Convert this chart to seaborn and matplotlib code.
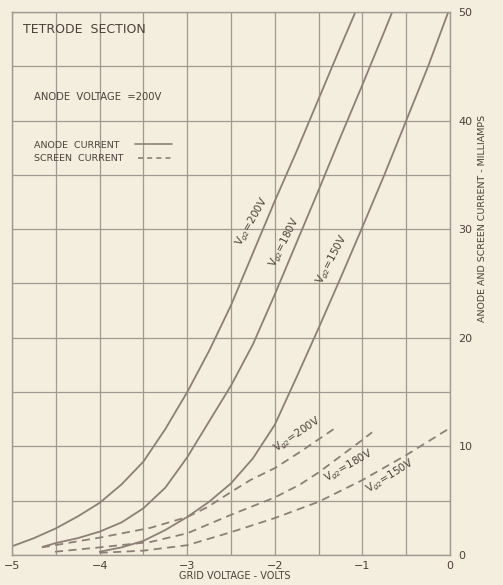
import matplotlib
matplotlib.use("Agg")
import matplotlib.pyplot as plt
import seaborn as sns
from matplotlib.lines import Line2D

# anode current curves (solid), grid volts vs mA
a200_x = [-5.0, -4.75, -4.5, -4.25, -4.0, -3.75, -3.5, -3.25, -3.0, -2.75, -2.5, -2.25, -2.0, -1.75, -1.5, -1.25, -1.08]
a200_y = [0.8, 1.55, 2.45, 3.55, 4.8, 6.5, 8.6, 11.6, 15.0, 18.8, 23.0, 27.8, 32.6, 37.2, 42.0, 46.8, 50.0]
a180_x = [-4.65, -4.5, -4.25, -4.0, -3.75, -3.5, -3.25, -3.0, -2.75, -2.5, -2.25, -2.0, -1.75, -1.5, -1.25, -1.0, -0.75, -0.66]
a180_y = [0.75, 1.1, 1.55, 2.15, 3.0, 4.3, 6.2, 9.0, 12.3, 15.6, 19.4, 24.0, 28.8, 33.6, 38.5, 43.3, 48.2, 50.0]
a150_x = [-4.0, -3.75, -3.5, -3.25, -3.0, -2.75, -2.5, -2.25, -2.0, -1.75, -1.5, -1.25, -1.0, -0.75, -0.5, -0.25, -0.02]
a150_y = [0.3, 0.7, 1.3, 2.3, 3.5, 4.9, 6.6, 8.9, 12.0, 16.4, 20.9, 25.5, 30.2, 35.0, 40.0, 45.0, 50.0]

# screen current curves (dashed)
s200_x = [-4.66, -4.0, -3.42, -3.0, -2.77, -2.5, -2.28, -2.0, -1.71, -1.29]
s200_y = [0.7, 1.6, 2.5, 3.5, 4.4, 5.8, 6.9, 8.0, 9.5, 11.8]
s180_x = [-4.51, -4.0, -3.42, -3.0, -2.5, -2.0, -1.71, -1.5, -1.0, -0.89]
s180_y = [0.3, 0.7, 1.2, 2.0, 3.7, 5.3, 6.5, 7.6, 10.6, 11.3]
s150_x = [-4.0, -3.5, -3.0, -2.5, -2.0, -1.5, -1.0, -0.5, 0.0]
s150_y = [0.2, 0.4, 0.9, 2.1, 3.4, 4.9, 6.9, 9.2, 11.7]

x_ticks = [-5, -4, -3, -2, -1, 0]
x_labels = ["\u22125", "\u22124", "\u22123", "\u22122", "\u22121", "0"]
y_ticks = [0, 10, 20, 30, 40, 50]

bg = "#f3eedd"
line_col = "#8d7f77"
grid_col = "#a39891"
text_col = "#4d403a"

sns.set_theme(style="white")
plt.rcParams['font.family'] = ['DejaVu Sans']

fig = plt.figure(figsize=(5.03, 5.85), dpi=100, facecolor=bg)
ax = fig.add_axes([0.0239, 0.0513, 0.8708, 0.9282])
ax.set_facecolor(bg)

solid_kw = dict(color=line_col, linewidth=1.3, estimator=None, sort=False, ax=ax)
for xs, ys in [(a200_x, a200_y), (a180_x, a180_y), (a150_x, a150_y)]:
    sns.lineplot(x=xs, y=ys, **solid_kw)
for xs, ys in [(s200_x, s200_y), (s180_x, s180_y), (s150_x, s150_y)]:
    sns.lineplot(x=xs, y=ys, dashes=False, linestyle=(0, (4.5, 3)), **solid_kw)

ax.set_xlim(-5, 0)
ax.set_ylim(0, 50)
ax.set_xticks(x_ticks)
ax.set_xticklabels(x_labels)
ax.set_xticks([-4.5, -3.5, -2.5, -1.5, -0.5], minor=True)
ax.set_yticks(y_ticks)
ax.set_yticks([5, 15, 25, 35, 45], minor=True)
ax.yaxis.tick_right()
ax.tick_params(which='both', length=0, colors=text_col, labelsize=8)
ax.tick_params(axis='x', pad=4)
ax.tick_params(axis='y', pad=6)
ax.grid(which='both', color=grid_col, linewidth=0.9)
for s in ax.spines.values():
    s.set_color(grid_col)
    s.set_linewidth(1.0)

ax.set_xlabel("GRID VOLTAGE - VOLTS", fontsize=7, color=text_col, labelpad=1)
ax.xaxis.set_label_coords(0.508, -0.03)
ax.text(1.073, 0.62, "ANODE AND SCREEN CURRENT - MILLIAMPS", transform=ax.transAxes,
        rotation=90, ha='center', va='center', fontsize=6.8, color=text_col)

ax.text(0.025, 0.967, "TETRODE  SECTION", transform=ax.transAxes, fontsize=9,
        color=text_col, va='center')
ax.text(0.05, 0.843, "ANODE  VOLTAGE  =200V", transform=ax.transAxes, fontsize=7.2,
        color=text_col, va='center')

# key: text first, sample line after it
ax.text(0.05, 0.754, "ANODE  CURRENT", transform=ax.transAxes, fontsize=6.8,
        color=text_col, va='center')
ax.text(0.05, 0.730, "SCREEN  CURRENT", transform=ax.transAxes, fontsize=6.8,
        color=text_col, va='center')
ax.add_line(Line2D([0.281, 0.365], [0.756, 0.756], transform=ax.transAxes,
                   color=line_col, linewidth=1.2))
ax.add_line(Line2D([0.288, 0.365], [0.732, 0.732], transform=ax.transAxes,
                   color=line_col, linewidth=1.2, linestyle=(0, (3, 2.5))))

vg = r"V$_{g2}$"
lab_kw = dict(fontsize=7.5, color=text_col, ha='center', va='center', rotation_mode='anchor')
ax.text(-2.26, 30.7, vg + "=200V", rotation=60, **lab_kw)
ax.text(-1.88, 28.8, vg + "=180V", rotation=63, **lab_kw)
ax.text(-1.34, 27.2, vg + "=150V", rotation=62, **lab_kw)
ax.text(-1.74, 11.05, vg + "=200V", rotation=34, **lab_kw)
ax.text(-1.15, 8.2, vg + "=180V", rotation=30, **lab_kw)
ax.text(-0.68, 7.2, vg + "=150V", rotation=32, **lab_kw)

fig.savefig("out.png", dpi=100, facecolor=bg)
